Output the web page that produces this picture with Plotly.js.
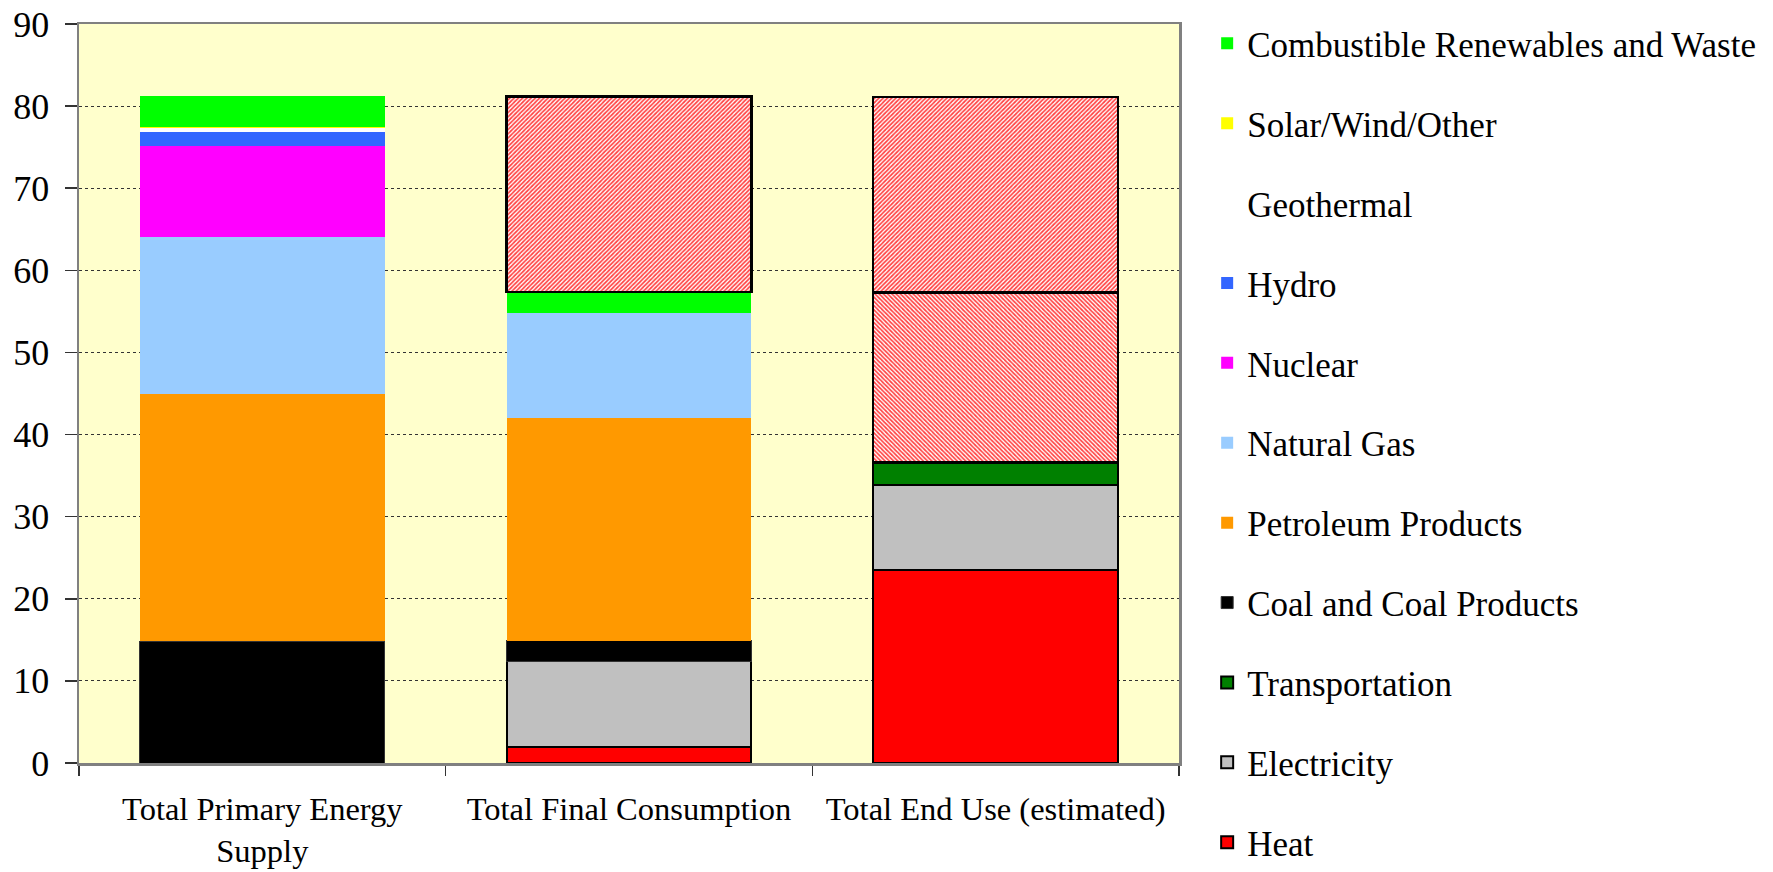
<!DOCTYPE html>
<html>
<head>
<meta charset="utf-8">
<script src="https://cdn.plot.ly/plotly-3.0.1.min.js"></script>
<style>html,body{margin:0;padding:0;background:#fff;}#chart{width:1773px;height:872px;}</style>
</head>
<body>
<div id="chart"></div>
<script>
const categories = ["Total Primary Energy<br>Supply", "Total Final Consumption", "Total End Use (estimated)"];
const heat = [null, 1.9, 23.5];
const electricity = [null, 10.5, 10.4];
const transportation = [null, null, 2.7];
const coal = [14.8, 2.5, null];
const petroleum = [30.1, 27.1, null];
const naturalGas = [19.1, 12.8, null];
const nuclear = [11.2, null, null];
const hydro = [1.7, null, null];
const geothermal = [0.45, null, null];
const solar = [0.15, 0.05, null];
const combustible = [3.7, 2.5, null];
const conversionLosses = [null, null, 20.7];
const otherLosses = [null, 23.8, 23.8];
const yTicks = [0, 10, 20, 30, 40, 50, 60, 70, 80, 90];

const FONT = "Liberation Serif, DejaVu Serif, serif";

function bar(name, y, color, rank, lineColor, lineWidth) {
  return {
    type: 'bar', name: name, x: categories, y: y,
    legendgroup: name, legendrank: rank,
    marker: {color: color, line: {color: lineColor || color, width: lineWidth || 0}},
    hoverinfo: 'name+y'
  };
}

const traces = [
  bar('Heat', heat, '#FF0000', 11, '#000000', 2),
  bar('Electricity', electricity, '#C0C0C0', 10, '#000000', 2),
  bar('Transportation', transportation, '#008000', 9, '#000000', 2),
  bar('Coal and Coal Products', coal, '#000000', 8, '#333333', 1),
  bar('Petroleum Products', petroleum, '#FF9900', 7),
  bar('Natural Gas', naturalGas, '#99CCFF', 6),
  bar('Nuclear', nuclear, '#FF00FF', 5),
  bar('Hydro', hydro, '#3366FF', 4),
  bar('Geothermal', geothermal, '#FFFFFF', 3),
  bar('Solar/Wind/Other', solar, '#FFFF00', 2),
  bar('Combustible Renewables and Waste', combustible, '#00FF00', 1),
  {type: 'bar', name: 'Conversion Losses', x: categories, y: conversionLosses, showlegend: false,
   legendrank: 20,
   marker: {color: '#FFFFFF', line: {color: '#000000', width: 2.5},
            pattern: {shape: '\\', fgcolor: '#FF4040', bgcolor: '#FFFFFF', size: 3, solidity: 0.55}}},
  {type: 'bar', name: 'Other Losses', x: categories, y: otherLosses, showlegend: false,
   legendrank: 21,
   marker: {color: '#FFFFFF', line: {color: '#000000', width: 2.5},
            pattern: {shape: '/', fgcolor: '#FF4040', bgcolor: '#FFFFFF', size: 3, solidity: 0.55}}}
];

const layout = {
  width: 1773, height: 872,
  paper_bgcolor: '#FFFFFF',
  plot_bgcolor: '#FFFFCC',
  barmode: 'stack',
  bargap: 0.332,
  margin: {l: 79, r: 594, t: 24, b: 109, pad: 0},
  font: {family: FONT, size: 32, color: '#000000'},
  xaxis: {
    type: 'category',
    tickson: 'boundaries',
    ticks: 'outside', ticklen: 10, tickwidth: 1.5, tickcolor: '#333333',
    showline: true, linecolor: '#808080', linewidth: 2.5, mirror: true,
    showgrid: false,
    tickfont: {family: FONT, size: 32.5, color: '#000000'},
    ticklabelstandoff: 15
  },
  yaxis: {
    range: [0, 90],
    tickvals: yTicks,
    ticks: 'outside', ticklen: 12, tickwidth: 1.5, tickcolor: '#333333',
    showline: true, linecolor: '#808080', linewidth: 2.5, mirror: true,
    showgrid: true, gridcolor: '#333333', gridwidth: 1, griddash: '3px,3px',
    zeroline: false,
    tickfont: {family: FONT, size: 36, color: '#000000'},
    ticklabelstandoff: 8
  },
  legend: {
    x: 1.0256, xanchor: 'left',
    y: 1.013, yanchor: 'top',
    traceorder: 'grouped',
    tracegroupgap: 31.4,
    maxheight: 900,
    font: {family: FONT, size: 35, color: '#000000'},
    bgcolor: 'rgba(0,0,0,0)',
    itemwidth: 30
  },
  showlegend: true
};

Plotly.newPlot('chart', traces, layout, {displayModeBar: false, staticPlot: true});
</script>
</body>
</html>
